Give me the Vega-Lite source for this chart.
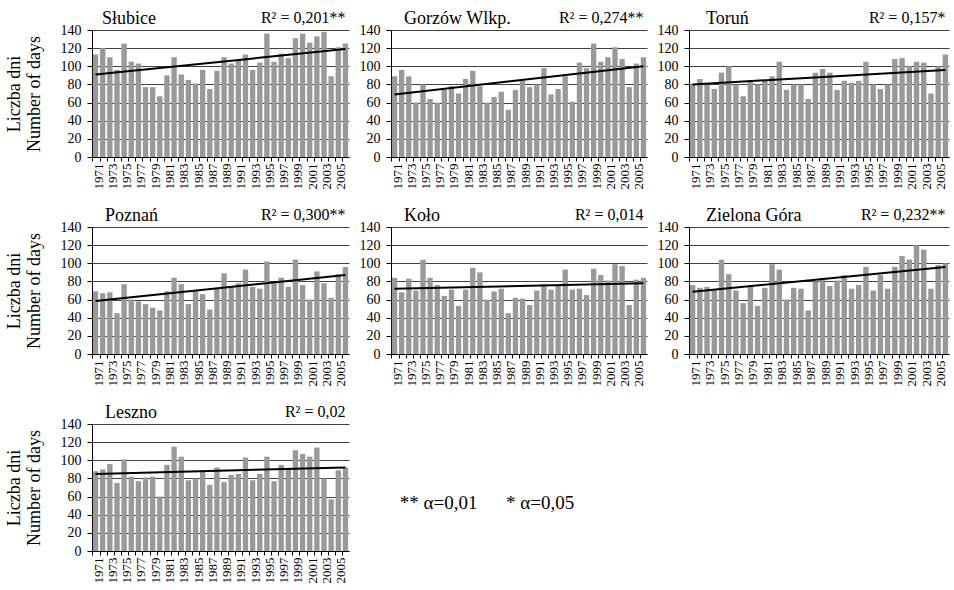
{
  "$schema": "https://vega.github.io/schema/vega-lite/v6.json",
  "padding": {"top": 10, "left": 5, "right": 5, "bottom": 5},
  "background": "white",
  "spacing": 18,
  "config": {
    "font": "Liberation Serif",
    "view": {"stroke": null},
    "axis": {"labelFont": "Liberation Serif", "labelColor": "black", "domainColor": "black", "tickColor": "black", "titleFont": "Liberation Serif", "titleFontWeight": "normal", "titleColor": "black"},
    "axisY": {"grid": true, "gridColor": "#111111", "gridWidth": 0.8, "labelFontSize": 14, "tickSize": 5, "labelPadding": 6, "titleFontSize": 18, "titleLineHeight": 20, "titlePadding": 17},
    "axisX": {"labelAngle": -90, "labelFontSize": 13, "bandPosition": 0, "labelOffset": 3, "labelOverlap": false, "tickSize": 4, "grid": false, "labelPadding": 2, "labelExpr": "(datum.value - 1971) % 2 === 0 ? datum.label : ''"},
    "bar": {"color": "#999999"},
    "text": {"font": "Liberation Serif", "color": "black"},
    "scale": {"bandPaddingInner": 0.25, "bandPaddingOuter": 0.125},
    "concat": {"spacing": 4}
  },
  "datasets": {
    "days": [
      {"station": "Słubice", "year": 1971, "days": 113}, {"station": "Słubice", "year": 1972, "days": 120}, {"station": "Słubice", "year": 1973, "days": 110}, {"station": "Słubice", "year": 1974, "days": 96}, {"station": "Słubice", "year": 1975, "days": 125}, {"station": "Słubice", "year": 1976, "days": 105}, {"station": "Słubice", "year": 1977, "days": 103}, {"station": "Słubice", "year": 1978, "days": 77}, {"station": "Słubice", "year": 1979, "days": 77}, {"station": "Słubice", "year": 1980, "days": 67},
      {"station": "Słubice", "year": 1981, "days": 90}, {"station": "Słubice", "year": 1982, "days": 110}, {"station": "Słubice", "year": 1983, "days": 91}, {"station": "Słubice", "year": 1984, "days": 85}, {"station": "Słubice", "year": 1985, "days": 81}, {"station": "Słubice", "year": 1986, "days": 96}, {"station": "Słubice", "year": 1987, "days": 75}, {"station": "Słubice", "year": 1988, "days": 95}, {"station": "Słubice", "year": 1989, "days": 110}, {"station": "Słubice", "year": 1990, "days": 103},
      {"station": "Słubice", "year": 1991, "days": 107}, {"station": "Słubice", "year": 1992, "days": 113}, {"station": "Słubice", "year": 1993, "days": 96}, {"station": "Słubice", "year": 1994, "days": 104}, {"station": "Słubice", "year": 1995, "days": 136}, {"station": "Słubice", "year": 1996, "days": 105}, {"station": "Słubice", "year": 1997, "days": 114}, {"station": "Słubice", "year": 1998, "days": 109}, {"station": "Słubice", "year": 1999, "days": 131}, {"station": "Słubice", "year": 2000, "days": 136},
      {"station": "Słubice", "year": 2001, "days": 126}, {"station": "Słubice", "year": 2002, "days": 133}, {"station": "Słubice", "year": 2003, "days": 138}, {"station": "Słubice", "year": 2004, "days": 89}, {"station": "Słubice", "year": 2005, "days": 121}, {"station": "Słubice", "year": 2006, "days": 125},
      {"station": "Gorzów Wlkp.", "year": 1971, "days": 89}, {"station": "Gorzów Wlkp.", "year": 1972, "days": 96}, {"station": "Gorzów Wlkp.", "year": 1973, "days": 89}, {"station": "Gorzów Wlkp.", "year": 1974, "days": 60}, {"station": "Gorzów Wlkp.", "year": 1975, "days": 80}, {"station": "Gorzów Wlkp.", "year": 1976, "days": 64}, {"station": "Gorzów Wlkp.", "year": 1977, "days": 60}, {"station": "Gorzów Wlkp.", "year": 1978, "days": 74}, {"station": "Gorzów Wlkp.", "year": 1979, "days": 78}, {"station": "Gorzów Wlkp.", "year": 1980, "days": 70},
      {"station": "Gorzów Wlkp.", "year": 1981, "days": 86}, {"station": "Gorzów Wlkp.", "year": 1982, "days": 95}, {"station": "Gorzów Wlkp.", "year": 1983, "days": 78}, {"station": "Gorzów Wlkp.", "year": 1984, "days": 60}, {"station": "Gorzów Wlkp.", "year": 1985, "days": 66}, {"station": "Gorzów Wlkp.", "year": 1986, "days": 72}, {"station": "Gorzów Wlkp.", "year": 1987, "days": 52}, {"station": "Gorzów Wlkp.", "year": 1988, "days": 74}, {"station": "Gorzów Wlkp.", "year": 1989, "days": 84}, {"station": "Gorzów Wlkp.", "year": 1990, "days": 77},
      {"station": "Gorzów Wlkp.", "year": 1991, "days": 80}, {"station": "Gorzów Wlkp.", "year": 1992, "days": 98}, {"station": "Gorzów Wlkp.", "year": 1993, "days": 69}, {"station": "Gorzów Wlkp.", "year": 1994, "days": 75}, {"station": "Gorzów Wlkp.", "year": 1995, "days": 89}, {"station": "Gorzów Wlkp.", "year": 1996, "days": 61}, {"station": "Gorzów Wlkp.", "year": 1997, "days": 104}, {"station": "Gorzów Wlkp.", "year": 1998, "days": 98}, {"station": "Gorzów Wlkp.", "year": 1999, "days": 125}, {"station": "Gorzów Wlkp.", "year": 2000, "days": 105},
      {"station": "Gorzów Wlkp.", "year": 2001, "days": 110}, {"station": "Gorzów Wlkp.", "year": 2002, "days": 121}, {"station": "Gorzów Wlkp.", "year": 2003, "days": 108}, {"station": "Gorzów Wlkp.", "year": 2004, "days": 77}, {"station": "Gorzów Wlkp.", "year": 2005, "days": 103}, {"station": "Gorzów Wlkp.", "year": 2006, "days": 110},
      {"station": "Toruń", "year": 1971, "days": 80}, {"station": "Toruń", "year": 1972, "days": 86}, {"station": "Toruń", "year": 1973, "days": 80}, {"station": "Toruń", "year": 1974, "days": 75}, {"station": "Toruń", "year": 1975, "days": 93}, {"station": "Toruń", "year": 1976, "days": 100}, {"station": "Toruń", "year": 1977, "days": 80}, {"station": "Toruń", "year": 1978, "days": 67}, {"station": "Toruń", "year": 1979, "days": 84}, {"station": "Toruń", "year": 1980, "days": 80},
      {"station": "Toruń", "year": 1981, "days": 84}, {"station": "Toruń", "year": 1982, "days": 89}, {"station": "Toruń", "year": 1983, "days": 105}, {"station": "Toruń", "year": 1984, "days": 74}, {"station": "Toruń", "year": 1985, "days": 80}, {"station": "Toruń", "year": 1986, "days": 80}, {"station": "Toruń", "year": 1987, "days": 64}, {"station": "Toruń", "year": 1988, "days": 93}, {"station": "Toruń", "year": 1989, "days": 97}, {"station": "Toruń", "year": 1990, "days": 93},
      {"station": "Toruń", "year": 1991, "days": 74}, {"station": "Toruń", "year": 1992, "days": 84}, {"station": "Toruń", "year": 1993, "days": 82}, {"station": "Toruń", "year": 1994, "days": 84}, {"station": "Toruń", "year": 1995, "days": 105}, {"station": "Toruń", "year": 1996, "days": 80}, {"station": "Toruń", "year": 1997, "days": 75}, {"station": "Toruń", "year": 1998, "days": 80}, {"station": "Toruń", "year": 1999, "days": 108}, {"station": "Toruń", "year": 2000, "days": 109},
      {"station": "Toruń", "year": 2001, "days": 100}, {"station": "Toruń", "year": 2002, "days": 105}, {"station": "Toruń", "year": 2003, "days": 104}, {"station": "Toruń", "year": 2004, "days": 70}, {"station": "Toruń", "year": 2005, "days": 100}, {"station": "Toruń", "year": 2006, "days": 113},
      {"station": "Poznań", "year": 1971, "days": 69}, {"station": "Poznań", "year": 1972, "days": 67}, {"station": "Poznań", "year": 1973, "days": 68}, {"station": "Poznań", "year": 1974, "days": 45}, {"station": "Poznań", "year": 1975, "days": 77}, {"station": "Poznań", "year": 1976, "days": 60}, {"station": "Poznań", "year": 1977, "days": 58}, {"station": "Poznań", "year": 1978, "days": 55}, {"station": "Poznań", "year": 1979, "days": 51}, {"station": "Poznań", "year": 1980, "days": 48},
      {"station": "Poznań", "year": 1981, "days": 69}, {"station": "Poznań", "year": 1982, "days": 84}, {"station": "Poznań", "year": 1983, "days": 77}, {"station": "Poznań", "year": 1984, "days": 55}, {"station": "Poznań", "year": 1985, "days": 70}, {"station": "Poznań", "year": 1986, "days": 66}, {"station": "Poznań", "year": 1987, "days": 49}, {"station": "Poznań", "year": 1988, "days": 72}, {"station": "Poznań", "year": 1989, "days": 89}, {"station": "Poznań", "year": 1990, "days": 74},
      {"station": "Poznań", "year": 1991, "days": 78}, {"station": "Poznań", "year": 1992, "days": 93}, {"station": "Poznań", "year": 1993, "days": 74}, {"station": "Poznań", "year": 1994, "days": 72}, {"station": "Poznań", "year": 1995, "days": 102}, {"station": "Poznań", "year": 1996, "days": 78}, {"station": "Poznań", "year": 1997, "days": 84}, {"station": "Poznań", "year": 1998, "days": 74}, {"station": "Poznań", "year": 1999, "days": 104}, {"station": "Poznań", "year": 2000, "days": 76},
      {"station": "Poznań", "year": 2001, "days": 60}, {"station": "Poznań", "year": 2002, "days": 91}, {"station": "Poznań", "year": 2003, "days": 78}, {"station": "Poznań", "year": 2004, "days": 62}, {"station": "Poznań", "year": 2005, "days": 88}, {"station": "Poznań", "year": 2006, "days": 96},
      {"station": "Koło", "year": 1971, "days": 84}, {"station": "Koło", "year": 1972, "days": 68}, {"station": "Koło", "year": 1973, "days": 83}, {"station": "Koło", "year": 1974, "days": 70}, {"station": "Koło", "year": 1975, "days": 104}, {"station": "Koło", "year": 1976, "days": 84}, {"station": "Koło", "year": 1977, "days": 76}, {"station": "Koło", "year": 1978, "days": 64}, {"station": "Koło", "year": 1979, "days": 71}, {"station": "Koło", "year": 1980, "days": 53},
      {"station": "Koło", "year": 1981, "days": 71}, {"station": "Koło", "year": 1982, "days": 95}, {"station": "Koło", "year": 1983, "days": 90}, {"station": "Koło", "year": 1984, "days": 60}, {"station": "Koło", "year": 1985, "days": 69}, {"station": "Koło", "year": 1986, "days": 72}, {"station": "Koło", "year": 1987, "days": 45}, {"station": "Koło", "year": 1988, "days": 62}, {"station": "Koło", "year": 1989, "days": 61}, {"station": "Koło", "year": 1990, "days": 54},
      {"station": "Koło", "year": 1991, "days": 70}, {"station": "Koło", "year": 1992, "days": 77}, {"station": "Koło", "year": 1993, "days": 71}, {"station": "Koło", "year": 1994, "days": 76}, {"station": "Koło", "year": 1995, "days": 93}, {"station": "Koło", "year": 1996, "days": 71}, {"station": "Koło", "year": 1997, "days": 72}, {"station": "Koło", "year": 1998, "days": 65}, {"station": "Koło", "year": 1999, "days": 94}, {"station": "Koło", "year": 2000, "days": 87},
      {"station": "Koło", "year": 2001, "days": 81}, {"station": "Koło", "year": 2002, "days": 99}, {"station": "Koło", "year": 2003, "days": 97}, {"station": "Koło", "year": 2004, "days": 54}, {"station": "Koło", "year": 2005, "days": 82}, {"station": "Koło", "year": 2006, "days": 84},
      {"station": "Zielona Góra", "year": 1971, "days": 76}, {"station": "Zielona Góra", "year": 1972, "days": 73}, {"station": "Zielona Góra", "year": 1973, "days": 74}, {"station": "Zielona Góra", "year": 1974, "days": 70}, {"station": "Zielona Góra", "year": 1975, "days": 104}, {"station": "Zielona Góra", "year": 1976, "days": 88}, {"station": "Zielona Góra", "year": 1977, "days": 70}, {"station": "Zielona Góra", "year": 1978, "days": 56}, {"station": "Zielona Góra", "year": 1979, "days": 74}, {"station": "Zielona Góra", "year": 1980, "days": 53},
      {"station": "Zielona Góra", "year": 1981, "days": 73}, {"station": "Zielona Góra", "year": 1982, "days": 99}, {"station": "Zielona Góra", "year": 1983, "days": 93}, {"station": "Zielona Góra", "year": 1984, "days": 60}, {"station": "Zielona Góra", "year": 1985, "days": 73}, {"station": "Zielona Góra", "year": 1986, "days": 72}, {"station": "Zielona Góra", "year": 1987, "days": 48}, {"station": "Zielona Góra", "year": 1988, "days": 80}, {"station": "Zielona Góra", "year": 1989, "days": 84}, {"station": "Zielona Góra", "year": 1990, "days": 75},
      {"station": "Zielona Góra", "year": 1991, "days": 81}, {"station": "Zielona Góra", "year": 1992, "days": 87}, {"station": "Zielona Góra", "year": 1993, "days": 72}, {"station": "Zielona Góra", "year": 1994, "days": 76}, {"station": "Zielona Góra", "year": 1995, "days": 96}, {"station": "Zielona Góra", "year": 1996, "days": 70}, {"station": "Zielona Góra", "year": 1997, "days": 87}, {"station": "Zielona Góra", "year": 1998, "days": 72}, {"station": "Zielona Góra", "year": 1999, "days": 96}, {"station": "Zielona Góra", "year": 2000, "days": 108},
      {"station": "Zielona Góra", "year": 2001, "days": 104}, {"station": "Zielona Góra", "year": 2002, "days": 120}, {"station": "Zielona Góra", "year": 2003, "days": 115}, {"station": "Zielona Góra", "year": 2004, "days": 72}, {"station": "Zielona Góra", "year": 2005, "days": 98}, {"station": "Zielona Góra", "year": 2006, "days": 100},
      {"station": "Leszno", "year": 1971, "days": 88}, {"station": "Leszno", "year": 1972, "days": 90}, {"station": "Leszno", "year": 1973, "days": 96}, {"station": "Leszno", "year": 1974, "days": 75}, {"station": "Leszno", "year": 1975, "days": 101}, {"station": "Leszno", "year": 1976, "days": 82}, {"station": "Leszno", "year": 1977, "days": 77}, {"station": "Leszno", "year": 1978, "days": 81}, {"station": "Leszno", "year": 1979, "days": 82}, {"station": "Leszno", "year": 1980, "days": 60},
      {"station": "Leszno", "year": 1981, "days": 95}, {"station": "Leszno", "year": 1982, "days": 115}, {"station": "Leszno", "year": 1983, "days": 104}, {"station": "Leszno", "year": 1984, "days": 78}, {"station": "Leszno", "year": 1985, "days": 80}, {"station": "Leszno", "year": 1986, "days": 88}, {"station": "Leszno", "year": 1987, "days": 73}, {"station": "Leszno", "year": 1988, "days": 92}, {"station": "Leszno", "year": 1989, "days": 76}, {"station": "Leszno", "year": 1990, "days": 84},
      {"station": "Leszno", "year": 1991, "days": 85}, {"station": "Leszno", "year": 1992, "days": 103}, {"station": "Leszno", "year": 1993, "days": 78}, {"station": "Leszno", "year": 1994, "days": 85}, {"station": "Leszno", "year": 1995, "days": 104}, {"station": "Leszno", "year": 1996, "days": 77}, {"station": "Leszno", "year": 1997, "days": 95}, {"station": "Leszno", "year": 1998, "days": 91}, {"station": "Leszno", "year": 1999, "days": 111}, {"station": "Leszno", "year": 2000, "days": 107},
      {"station": "Leszno", "year": 2001, "days": 104}, {"station": "Leszno", "year": 2002, "days": 114}, {"station": "Leszno", "year": 2003, "days": 80}, {"station": "Leszno", "year": 2004, "days": 57}, {"station": "Leszno", "year": 2005, "days": 89}, {"station": "Leszno", "year": 2006, "days": 92}
    ],
    "trend": [
      {"station": "Słubice", "year": 1971, "days": 91}, {"station": "Słubice", "year": 2006, "days": 119},
      {"station": "Gorzów Wlkp.", "year": 1971, "days": 69}, {"station": "Gorzów Wlkp.", "year": 2006, "days": 100},
      {"station": "Toruń", "year": 1971, "days": 80}, {"station": "Toruń", "year": 2006, "days": 96},
      {"station": "Poznań", "year": 1971, "days": 58.5}, {"station": "Poznań", "year": 2006, "days": 87},
      {"station": "Koło", "year": 1971, "days": 72}, {"station": "Koło", "year": 2006, "days": 78},
      {"station": "Zielona Góra", "year": 1971, "days": 68.5}, {"station": "Zielona Góra", "year": 2006, "days": 96},
      {"station": "Leszno", "year": 1971, "days": 85}, {"station": "Leszno", "year": 2006, "days": 92}
    ]
  },
  "vconcat": [
    {"hconcat": [
      {"width": 257, "height": 127, "title": {"text": "Słubice", "dx": 10, "font": "Liberation Serif", "fontSize": 18, "fontWeight": "normal", "anchor": "start", "frame": "group", "color": "black", "offset": -18},
       "encoding": {"x": {"field": "year", "type": "ordinal", "axis": {"title": null}}, "y": {"field": "days", "type": "quantitative", "scale": {"domain": [0, 140]}, "axis": {"title": ["Liczba dni", "Number of days"], "values": [0, 20, 40, 60, 80, 100, 120, 140]}}},
       "layer": [
        {"data": {"name": "days"}, "transform": [{"filter": "datum.station === 'Słubice'"}], "mark": "bar"},
        {"data": {"name": "trend"}, "transform": [{"filter": "datum.station === 'Słubice'"}], "mark": {"type": "line", "color": "black", "strokeWidth": 2}},
        {"data": {"name": "days"}, "transform": [{"filter": "datum.station === 'Słubice' && datum.year === 2006"}], "mark": {"type": "text", "align": "right", "baseline": "alphabetic", "dy": -7, "fontSize": 16},
         "encoding": {"y": {"datum": 140, "type": "quantitative"}, "text": {"value": "R² = 0,201**"}}}
       ]},
      {"width": 256, "height": 127, "title": {"text": "Gorzów Wlkp.", "dx": 13, "font": "Liberation Serif", "fontSize": 18, "fontWeight": "normal", "anchor": "start", "frame": "group", "color": "black", "offset": -18},
       "encoding": {"x": {"field": "year", "type": "ordinal", "axis": {"title": null}}, "y": {"field": "days", "type": "quantitative", "scale": {"domain": [0, 140]}, "axis": {"title": null, "values": [0, 20, 40, 60, 80, 100, 120, 140]}}},
       "layer": [
        {"data": {"name": "days"}, "transform": [{"filter": "datum.station === 'Gorzów Wlkp.'"}], "mark": "bar"},
        {"data": {"name": "trend"}, "transform": [{"filter": "datum.station === 'Gorzów Wlkp.'"}], "mark": {"type": "line", "color": "black", "strokeWidth": 2}},
        {"data": {"name": "days"}, "transform": [{"filter": "datum.station === 'Gorzów Wlkp.' && datum.year === 2006"}], "mark": {"type": "text", "align": "right", "baseline": "alphabetic", "dy": -7, "fontSize": 16},
         "encoding": {"y": {"datum": 140, "type": "quantitative"}, "text": {"value": "R² = 0,274**"}}}
       ]},
      {"width": 260, "height": 127, "title": {"text": "Toruń", "dx": 17, "font": "Liberation Serif", "fontSize": 18, "fontWeight": "normal", "anchor": "start", "frame": "group", "color": "black", "offset": -18},
       "encoding": {"x": {"field": "year", "type": "ordinal", "axis": {"title": null}}, "y": {"field": "days", "type": "quantitative", "scale": {"domain": [0, 140]}, "axis": {"title": null, "values": [0, 20, 40, 60, 80, 100, 120, 140]}}},
       "layer": [
        {"data": {"name": "days"}, "transform": [{"filter": "datum.station === 'Toruń'"}], "mark": "bar"},
        {"data": {"name": "trend"}, "transform": [{"filter": "datum.station === 'Toruń'"}], "mark": {"type": "line", "color": "black", "strokeWidth": 2}},
        {"data": {"name": "days"}, "transform": [{"filter": "datum.station === 'Toruń' && datum.year === 2006"}], "mark": {"type": "text", "align": "right", "baseline": "alphabetic", "dy": -7, "fontSize": 16},
         "encoding": {"y": {"datum": 140, "type": "quantitative"}, "text": {"value": "R² = 0,157*"}}}
       ]}
    ]},
    {"hconcat": [
      {"width": 257, "height": 127, "title": {"text": "Poznań", "dx": 13, "font": "Liberation Serif", "fontSize": 18, "fontWeight": "normal", "anchor": "start", "frame": "group", "color": "black", "offset": -18},
       "encoding": {"x": {"field": "year", "type": "ordinal", "axis": {"title": null}}, "y": {"field": "days", "type": "quantitative", "scale": {"domain": [0, 140]}, "axis": {"title": ["Liczba dni", "Number of days"], "values": [0, 20, 40, 60, 80, 100, 120, 140]}}},
       "layer": [
        {"data": {"name": "days"}, "transform": [{"filter": "datum.station === 'Poznań'"}], "mark": "bar"},
        {"data": {"name": "trend"}, "transform": [{"filter": "datum.station === 'Poznań'"}], "mark": {"type": "line", "color": "black", "strokeWidth": 2}},
        {"data": {"name": "days"}, "transform": [{"filter": "datum.station === 'Poznań' && datum.year === 2006"}], "mark": {"type": "text", "align": "right", "baseline": "alphabetic", "dy": -7, "fontSize": 16},
         "encoding": {"y": {"datum": 140, "type": "quantitative"}, "text": {"value": "R² = 0,300**"}}}
       ]},
      {"width": 256, "height": 127, "title": {"text": "Koło", "dx": 13, "font": "Liberation Serif", "fontSize": 18, "fontWeight": "normal", "anchor": "start", "frame": "group", "color": "black", "offset": -18},
       "encoding": {"x": {"field": "year", "type": "ordinal", "axis": {"title": null}}, "y": {"field": "days", "type": "quantitative", "scale": {"domain": [0, 140]}, "axis": {"title": null, "values": [0, 20, 40, 60, 80, 100, 120, 140]}}},
       "layer": [
        {"data": {"name": "days"}, "transform": [{"filter": "datum.station === 'Koło'"}], "mark": "bar"},
        {"data": {"name": "trend"}, "transform": [{"filter": "datum.station === 'Koło'"}], "mark": {"type": "line", "color": "black", "strokeWidth": 2}},
        {"data": {"name": "days"}, "transform": [{"filter": "datum.station === 'Koło' && datum.year === 2006"}], "mark": {"type": "text", "align": "right", "baseline": "alphabetic", "dy": -7, "fontSize": 16},
         "encoding": {"y": {"datum": 140, "type": "quantitative"}, "text": {"value": "R² = 0,014"}}}
       ]},
      {"width": 260, "height": 127, "title": {"text": "Zielona Góra", "dx": 17, "font": "Liberation Serif", "fontSize": 18, "fontWeight": "normal", "anchor": "start", "frame": "group", "color": "black", "offset": -18},
       "encoding": {"x": {"field": "year", "type": "ordinal", "axis": {"title": null}}, "y": {"field": "days", "type": "quantitative", "scale": {"domain": [0, 140]}, "axis": {"title": null, "values": [0, 20, 40, 60, 80, 100, 120, 140]}}},
       "layer": [
        {"data": {"name": "days"}, "transform": [{"filter": "datum.station === 'Zielona Góra'"}], "mark": "bar"},
        {"data": {"name": "trend"}, "transform": [{"filter": "datum.station === 'Zielona Góra'"}], "mark": {"type": "line", "color": "black", "strokeWidth": 2}},
        {"data": {"name": "days"}, "transform": [{"filter": "datum.station === 'Zielona Góra' && datum.year === 2006"}], "mark": {"type": "text", "align": "right", "baseline": "alphabetic", "dy": -7, "fontSize": 16},
         "encoding": {"y": {"datum": 140, "type": "quantitative"}, "text": {"value": "R² = 0,232**"}}}
       ]}
    ]},
    {"hconcat": [
      {"width": 257, "height": 127, "title": {"text": "Leszno", "dx": 13, "font": "Liberation Serif", "fontSize": 18, "fontWeight": "normal", "anchor": "start", "frame": "group", "color": "black", "offset": -18},
       "encoding": {"x": {"field": "year", "type": "ordinal", "axis": {"title": null}}, "y": {"field": "days", "type": "quantitative", "scale": {"domain": [0, 140]}, "axis": {"title": ["Liczba dni", "Number of days"], "values": [0, 20, 40, 60, 80, 100, 120, 140]}}},
       "layer": [
        {"data": {"name": "days"}, "transform": [{"filter": "datum.station === 'Leszno'"}], "mark": "bar"},
        {"data": {"name": "trend"}, "transform": [{"filter": "datum.station === 'Leszno'"}], "mark": {"type": "line", "color": "black", "strokeWidth": 2}},
        {"data": {"name": "days"}, "transform": [{"filter": "datum.station === 'Leszno' && datum.year === 2006"}], "mark": {"type": "text", "align": "right", "baseline": "alphabetic", "dy": -7, "fontSize": 16},
         "encoding": {"y": {"datum": 140, "type": "quantitative"}, "text": {"value": "R² = 0,02"}}}
       ]},
      {"width": 256, "height": 127,
       "data": {"values": [{"note": "** α=0,01\u00a0\u00a0\u00a0\u00a0\u00a0 * α=0,05"}]},
       "mark": {"type": "text", "fontSize": 19, "dy": 15},
       "encoding": {"text": {"field": "note"}}}
    ]}
  ]
}
